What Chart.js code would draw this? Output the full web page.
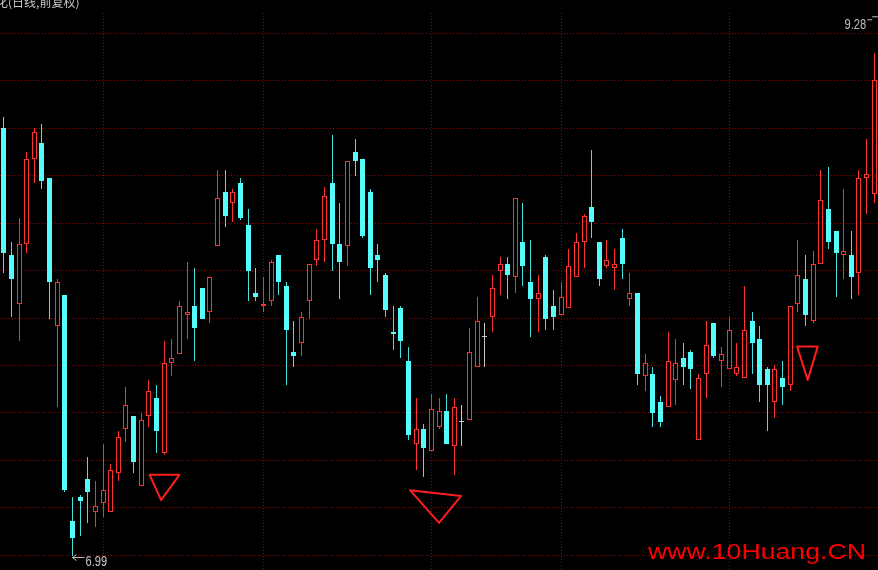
<!DOCTYPE html>
<html><head><meta charset="utf-8">
<script src="https://cdn.jsdelivr.net/npm/chart.js@4/dist/chart.umd.min.js"></script>
<style>html,body{margin:0;padding:0;background:#000;overflow:hidden}canvas{display:block}</style>
</head><body>
<canvas id="c" width="878" height="570"></canvas>
<script>
const openPrices = [
 8.94, 8.36, 8.14, 8.41, 8.80, 8.87, 8.71, 8.04, 8.18, 7.15,
 7.26, 7.34, 7.19, 7.23, 7.19, 7.37, 7.57, 7.63, 7.31, 7.63,
 7.71, 7.46, 7.87, 7.91, 8.09, 8.13, 8.21, 8.10, 8.40, 8.65,
 8.60, 8.69, 8.50, 8.19, 8.13, 8.15, 8.36, 8.22, 7.92, 7.96,
 8.15, 8.34, 8.43, 8.69, 8.41, 8.40, 8.83, 8.80, 8.65, 8.36,
 8.27, 8.01, 8.12, 7.88, 7.50, 7.57, 7.47, 7.58, 7.65, 7.49,
 7.60, 7.61, 7.85, 7.99, 8.08, 8.29, 8.32, 8.26, 8.42, 8.24,
 8.16, 8.35, 8.13, 8.09, 8.12, 8.26, 8.42, 8.58, 8.42, 8.31,
 8.30, 8.44, 8.16, 8.19, 7.81, 7.82, 7.69, 7.67, 7.79, 7.89,
 7.92, 7.52, 7.82, 8.05, 7.88, 7.84, 7.82, 7.80, 8.06, 7.98,
 7.84, 7.69, 7.80, 7.77, 8.14, 8.25, 8.06, 8.32, 8.57, 8.47,
 8.36, 8.36, 8.28, 8.71, 8.64];
const highPrices = [
 8.99, 8.42, 8.53, 8.83, 8.94, 8.96, 8.71, 8.25, 8.18, 7.26,
 7.27, 7.44, 7.33, 7.50, 7.41, 7.56, 7.76, 7.63, 7.64, 7.79,
 7.77, 7.97, 7.98, 8.15, 8.33, 8.30, 8.21, 8.26, 8.75, 8.75,
 8.66, 8.71, 8.57, 8.30, 8.26, 8.34, 8.36, 8.24, 8.06, 8.10,
 8.32, 8.48, 8.67, 8.91, 8.60, 8.79, 8.89, 8.80, 8.66, 8.41,
 8.28, 8.13, 8.13, 7.94, 7.71, 7.59, 7.73, 7.71, 7.73, 7.71,
 7.68, 8.03, 8.17, 8.05, 8.27, 8.35, 8.35, 8.62, 8.60, 8.43,
 8.27, 8.36, 8.20, 8.24, 8.39, 8.46, 8.55, 8.84, 8.42, 8.43,
 8.39, 8.48, 8.28, 8.19, 7.91, 7.85, 7.72, 8.01, 7.98, 7.96,
 7.93, 7.82, 8.06, 8.05, 7.94, 8.08, 7.96, 8.22, 8.10, 8.04,
 7.85, 7.86, 7.88, 8.13, 8.43, 8.36, 8.38, 8.75, 8.76, 8.47,
 8.66, 8.47, 8.75, 8.89, 9.28];
const lowPrices = [
 8.28, 8.08, 7.97, 8.37, 8.69, 8.66, 8.07, 7.67, 7.28, 6.99,
 7.08, 7.14, 7.12, 7.17, 7.19, 7.33, 7.51, 7.37, 7.31, 7.58,
 7.46, 7.45, 7.81, 7.91, 7.98, 7.88, 8.07, 8.05, 8.40, 8.49,
 8.51, 8.52, 8.15, 8.15, 8.10, 8.13, 8.18, 7.77, 7.85, 7.90,
 8.07, 8.31, 8.33, 8.29, 8.16, 8.31, 8.72, 8.44, 8.18, 8.24,
 8.08, 7.93, 7.89, 7.52, 7.38, 7.35, 7.47, 7.57, 7.50, 7.36,
 7.49, 7.61, 7.85, 7.85, 8.01, 8.18, 8.16, 8.19, 8.22, 7.99,
 8.01, 8.02, 8.02, 8.09, 8.12, 8.26, 8.30, 8.44, 8.22, 8.30,
 8.20, 8.25, 8.13, 7.77, 7.74, 7.58, 7.58, 7.67, 7.68, 7.77,
 7.75, 7.52, 7.71, 7.89, 7.76, 7.84, 7.81, 7.80, 7.82, 7.69,
 7.56, 7.62, 7.68, 7.74, 8.10, 8.04, 8.05, 8.32, 8.39, 8.17,
 8.25, 8.16, 8.18, 8.55, 8.60];
const closePrices = [
 8.37, 8.25, 8.41, 8.80, 8.92, 8.70, 8.24, 8.24, 7.29, 7.07,
 7.24, 7.28, 7.22, 7.29, 7.38, 7.53, 7.68, 7.42, 7.61, 7.74,
 7.56, 7.87, 7.89, 8.13, 8.10, 8.03, 8.07, 8.26, 8.62, 8.54,
 8.65, 8.53, 8.29, 8.17, 8.14, 8.33, 8.24, 8.02, 7.90, 8.08,
 8.32, 8.43, 8.63, 8.41, 8.33, 8.79, 8.79, 8.45, 8.30, 8.34,
 8.11, 8.00, 7.97, 7.54, 7.57, 7.48, 7.66, 7.65, 7.50, 7.67,
 7.60, 7.92, 8.06, 7.99, 8.21, 8.32, 8.27, 8.62, 8.31, 8.16,
 8.19, 8.07, 8.08, 8.17, 8.31, 8.42, 8.54, 8.51, 8.25, 8.34,
 8.32, 8.32, 8.19, 7.82, 7.87, 7.64, 7.60, 7.88, 7.87, 7.85,
 7.84, 7.80, 7.95, 7.90, 7.91, 8.02, 7.85, 8.02, 7.96, 7.77,
 7.77, 7.84, 7.76, 8.13, 8.27, 8.09, 8.32, 8.61, 8.42, 8.37,
 8.38, 8.26, 8.71, 8.73, 9.16];
const dayLabels = openPrices.map((_, i) => 'D' + (i + 1));
const monthStartIdx = [13, 34, 56, 73, 95];
const gridPrices = [6.994, 7.210, 7.426, 7.642, 7.858, 8.074, 8.290, 8.507, 8.723, 8.939, 9.155, 9.371];
const priceMin = 6.9264, priceMax = 9.4636;
const titleText = '化(日线,前复权)';
const watermarkText = 'www.10Huang.CN';
// hand-drawn marks: [day index, price]
const markTriangles = [
  [[19.1, 7.36], [23.0, 7.36], [20.6, 7.245]],
  [[53.2, 7.29], [59.9, 7.264], [57.0, 7.141]],
  [[103.9, 7.944], [106.6, 7.944], [105.3, 7.792]]
];

const RED = '#ff3232', CYAN = '#54fcfc', CYAN_WICK = '#48e0e0', GRAY = '#c8c8c8', GRID = '#a00000';
const dir = closePrices.map((c, i) => c > openPrices[i] ? 1 : (c < openPrices[i] ? -1 : 0));

// snap bar elements (positioned by the scales) onto the pixel grid for crisp candles
const pixelSnap = {
  id: 'pixelSnap',
  afterDatasetsUpdate(chart) {
    chart.data.datasets.forEach((ds, di) => {
      chart.getDatasetMeta(di).data.forEach(el => {
        el.x = Math.round(el.x - 0.5) + 0.5;
        el.y = Math.round(el.y);
        el.base = Math.round(el.base);
        if (Math.abs(el.base - el.y) < 1) el.base = el.y + 1;
      });
    });
  }
};

const overlay = {
  id: 'overlay',
  afterDraw(chart) {
    const ctx = chart.ctx, x = chart.scales.x, y = chart.scales.y;
    ctx.save();
    ctx.fillStyle = '#c8c8c8';
    ctx.font = '12px "Noto Sans CJK SC"';
    ctx.textBaseline = 'alphabetic';
    ctx.textAlign = 'left';
    ctx.fillText(titleText, -4, 7);
    let maxI = 0, minI = 0;
    highPrices.forEach((v, i) => { if (v > highPrices[maxI]) maxI = i; });
    lowPrices.forEach((v, i) => { if (v < lowPrices[minI]) minI = i; });
    const mx = x.getPixelForValue(maxI), my = y.getPixelForValue(highPrices[maxI]);
    ctx.save();
    ctx.translate(mx - 8, my - 24.5);
    ctx.scale(0.74, 1);
    ctx.textAlign = 'right';
    ctx.font = '15px "Liberation Sans"';
    ctx.fillStyle = '#c0c0c0';
    ctx.fillText(highPrices[maxI].toFixed(2), 0, 0);
    ctx.restore();
    ctx.strokeStyle = '#c0c0c0'; ctx.lineWidth = 1;
    ctx.beginPath();
    ctx.moveTo(mx - 7, my - 33.5); ctx.lineTo(mx - 2, my - 33.5);
    ctx.moveTo(mx - 2, my - 36.5); ctx.lineTo(mx + 4, my - 36.5);
    ctx.stroke();
    const nx = x.getPixelForValue(minI), ny = y.getPixelForValue(lowPrices[minI]);
    ctx.beginPath();
    ctx.moveTo(nx, ny + 1.5); ctx.lineTo(nx + 12, ny + 1.5);
    ctx.moveTo(nx, ny + 1.5); ctx.lineTo(nx + 4, ny - 1.5);
    ctx.moveTo(nx, ny + 1.5); ctx.lineTo(nx + 4, ny + 4.5);
    ctx.stroke();
    ctx.save();
    ctx.translate(nx + 13, ny + 9.5);
    ctx.scale(0.74, 1);
    ctx.textAlign = 'left';
    ctx.font = '15px "Liberation Sans"';
    ctx.fillText(lowPrices[minI].toFixed(2), 0, 0);
    ctx.restore();
    ctx.strokeStyle = '#ff1e1e'; ctx.lineWidth = 2; ctx.lineJoin = 'round';
    markTriangles.forEach(t => {
      ctx.beginPath();
      t.forEach((p, k) => {
        const px = x.getPixelForValue(p[0]), py = y.getPixelForValue(p[1]);
        if (k === 0) ctx.moveTo(px, py); else ctx.lineTo(px, py);
      });
      ctx.closePath();
      ctx.stroke();
    });
    ctx.font = '22px "Liberation Sans"';
    const w = ctx.measureText(watermarkText).width;
    ctx.translate(648, 559);
    ctx.scale(218 / w, 1);
    ctx.fillStyle = '#ff0000';
    ctx.textAlign = 'left';
    ctx.fillText(watermarkText, 0, 0);
    ctx.restore();
  }
};

new Chart(document.getElementById('c'), {
  type: 'bar',
  data: {
    labels: dayLabels,
    datasets: [
      {
        label: 'wick',
        data: lowPrices.map((l, i) => [l, highPrices[i]]),
        backgroundColor: dir.map(d => d > 0 ? RED : (d < 0 ? CYAN_WICK : GRAY)),
        borderWidth: 0,
        barThickness: 1,
        grouped: false,
        inflateAmount: 0,
        order: 2
      },
      {
        label: 'body',
        data: openPrices.map((o, i) => [o, closePrices[i]]),
        backgroundColor: dir.map(d => d > 0 ? '#000000' : (d < 0 ? CYAN : GRAY)),
        borderColor: dir.map(d => d > 0 ? RED : (d < 0 ? CYAN : GRAY)),
        borderWidth: 1,
        borderSkipped: false,
        barThickness: 5,
        minBarLength: 1,
        grouped: false,
        inflateAmount: 0,
        order: 1
      }
    ]
  },
  options: {
    responsive: false,
    animation: false,
    devicePixelRatio: 1,
    layout: { padding: { top: 13, left: 0, right: 0, bottom: 0 } },
    plugins: { legend: { display: false }, tooltip: { enabled: false } },
    scales: {
      x: {
        type: 'category', offset: true, display: true,
        grid: { offset: false, drawTicks: false, lineWidth: 1,
          color: c => monthStartIdx.includes(c.index) ? GRID : 'rgba(0,0,0,0)' },
        border: { display: false, dash: [1, 2] },
        ticks: { display: false, autoSkip: false }
      },
      y: {
        type: 'linear', min: priceMin, max: priceMax, display: true,
        grid: { drawTicks: false, color: GRID, lineWidth: 1 },
        border: { display: false, dash: [1, 2] },
        ticks: { display: false },
        afterBuildTicks: s => { s.ticks = gridPrices.map(v => ({ value: v })); }
      }
    }
  },
  plugins: [pixelSnap, overlay]
});
</script>
</body></html>
